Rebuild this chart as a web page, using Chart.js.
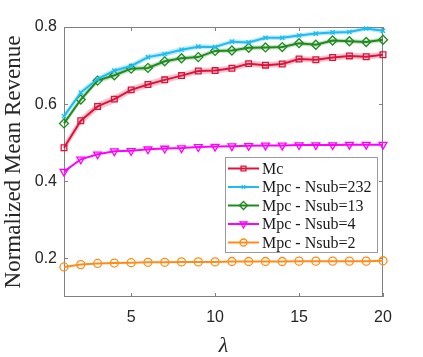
<!DOCTYPE html>
<html>
<head>
<meta charset="utf-8">
<script src="https://cdn.jsdelivr.net/npm/chart.js@4/dist/chart.umd.min.js"></script>
<style>
  html, body { margin: 0; padding: 0; background: #fff; }
  #wrap { width: 423px; height: 357px; }
</style>
</head>
<body>
<div id="wrap"><canvas id="chart" width="423" height="357"></canvas></div>
<script>
// values
const lambdaValues = [1, 2, 3, 4, 5, 6, 7, 8, 9, 10, 11, 12, 13, 14, 15, 16, 17, 18, 19, 20];
const mcValues   = [0.487, 0.557, 0.594, 0.613, 0.637, 0.651, 0.663, 0.674, 0.686, 0.687, 0.693, 0.705, 0.701, 0.704, 0.717, 0.715, 0.721, 0.725, 0.723, 0.728];
const nsub232    = [0.569, 0.630, 0.665, 0.687, 0.699, 0.722, 0.730, 0.741, 0.749, 0.748, 0.762, 0.760, 0.772, 0.772, 0.778, 0.783, 0.786, 0.787, 0.796, 0.790];
const nsub13     = [0.550, 0.612, 0.661, 0.675, 0.692, 0.694, 0.711, 0.719, 0.722, 0.738, 0.739, 0.746, 0.747, 0.748, 0.758, 0.754, 0.765, 0.763, 0.761, 0.767];
const nsub4      = [0.425, 0.457, 0.470, 0.478, 0.479, 0.483, 0.485, 0.486, 0.489, 0.490, 0.491, 0.492, 0.493, 0.493, 0.494, 0.494, 0.494, 0.495, 0.495, 0.495];
const nsub2      = [0.178, 0.184, 0.187, 0.188, 0.189, 0.190, 0.190, 0.191, 0.191, 0.191, 0.192, 0.192, 0.192, 0.192, 0.193, 0.193, 0.193, 0.193, 0.193, 0.194];
// half width of the shaded bands
const mcErr      = [0.012, 0.011, 0.010, 0.010, 0.009, 0.009, 0.009, 0.008, 0.008, 0.008, 0.008, 0.008, 0.008, 0.008, 0.008, 0.008, 0.008, 0.008, 0.008, 0.008];
const nsub232Err = [0.008, 0.008, 0.007, 0.007, 0.007, 0.007, 0.007, 0.007, 0.006, 0.006, 0.006, 0.006, 0.006, 0.006, 0.006, 0.006, 0.006, 0.006, 0.006, 0.006];
const nsub13Err  = [0.008, 0.008, 0.007, 0.007, 0.007, 0.007, 0.007, 0.006, 0.006, 0.006, 0.006, 0.006, 0.006, 0.006, 0.006, 0.006, 0.006, 0.006, 0.006, 0.006];
const xTicks = [5, 10, 15, 20];
const yTicks = [0.2, 0.4, 0.6, 0.8];

const series = [
  { label: "Mc",               values: mcValues, err: mcErr,      color: "#dc143c", band: "rgba(220,20,60,0.25)",  style: "rect",     radius: 4 },
  { label: "Mpc - Nsub=232",   values: nsub232,  err: nsub232Err, color: "#1ebcf0", band: "rgba(30,188,240,0.3)",  style: "crossRot", radius: 3 },
  { label: "Mpc - Nsub=13",    values: nsub13,   err: nsub13Err,  color: "#1f8a1f", band: "rgba(31,138,31,0.25)",  style: "rectRot",  radius: 4.5 },
  { label: "Mpc - Nsub=4",     values: nsub4,    err: null,       color: "#ff00ff", band: null,                    style: "triangle", radius: 4.5, rotation: 180 },
  { label: "Mpc - Nsub=2",     values: nsub2,    err: null,       color: "#ff8c1a", band: null,                    style: "circle",   radius: 4 }
];

function pts(vals, off, sign) {
  return lambdaValues.map((x, i) => ({ x: x, y: off ? vals[i] + sign * off[i] : vals[i] }));
}

const datasets = [];
series.forEach(s => {
  datasets.push({
    label: s.label,
    data: pts(s.values),
    borderColor: s.color,
    borderWidth: 2,
    pointStyle: s.style,
    pointRadius: s.radius,
    pointRotation: s.rotation || 0,
    pointBorderColor: s.color,
    pointBackgroundColor: "rgba(0,0,0,0)",
    pointBorderWidth: 1.3,
    fill: false,
    clip: false,
    order: 0
  });
});
series.forEach(s => {
  if (!s.err) return;
  datasets.push({
    label: "_upper",
    data: pts(s.values, s.err, 1),
    borderWidth: 0, pointRadius: 0,
    backgroundColor: s.band,
    fill: "+1",
    order: 10
  });
  datasets.push({
    label: "_lower",
    data: pts(s.values, s.err, -1),
    borderWidth: 0, pointRadius: 0,
    fill: false,
    order: 10
  });
});

// axes box with inward ticks, like the original figure
const boxPlugin = {
  id: "box",
  beforeDatasetsDraw(chart) {
    const { ctx, chartArea: a, scales } = chart;
    ctx.save();
    ctx.strokeStyle = "#808080";
    ctx.lineWidth = 1;
    ctx.strokeRect(a.left + 0.5, a.top + 0.5, a.right - a.left - 1, a.bottom - a.top - 1);
    ctx.beginPath();
    xTicks.forEach(v => {
      const px = Math.round(scales.x.getPixelForValue(v)) + 0.5;
      ctx.moveTo(px, a.bottom); ctx.lineTo(px, a.bottom - 4);
      ctx.moveTo(px, a.top); ctx.lineTo(px, a.top + 4);
    });
    yTicks.forEach(v => {
      const py = Math.round(scales.y.getPixelForValue(v)) + 0.5;
      ctx.moveTo(a.left, py); ctx.lineTo(a.left + 4, py);
      ctx.moveTo(a.right, py); ctx.lineTo(a.right - 4, py);
    });
    ctx.stroke();
    ctx.restore();
  }
};

// legend drawn inside the plot, bottom right
const legendPlugin = {
  id: "innerLegend",
  afterDraw(chart) {
    const { ctx } = chart;
    const bx = 225, by = 157, bw = 152, bh = 95;
    ctx.save();
    ctx.fillStyle = "#fff";
    ctx.fillRect(bx, by, bw, bh);
    ctx.strokeStyle = "#9a9a9a";
    ctx.lineWidth = 1;
    ctx.strokeRect(bx + 0.5, by + 0.5, bw, bh);
    ctx.font = "16px 'Liberation Serif'";
    ctx.textBaseline = "middle";
    series.forEach((s, i) => {
      const y = by + 11.5 + i * 18.5;
      ctx.strokeStyle = s.color;
      ctx.lineWidth = 2;
      ctx.beginPath();
      ctx.moveTo(bx + 3, y); ctx.lineTo(bx + 34, y);
      ctx.stroke();
      ctx.lineWidth = 1.3;
      ctx.fillStyle = "rgba(0,0,0,0)";
      Chart.helpers.drawPoint(ctx, { pointStyle: s.style, radius: s.radius - 0.5, rotation: s.rotation || 0, borderWidth: 1.3 }, bx + 18.5, y);
      ctx.fillStyle = "#1a1a1a";
      ctx.fillText(s.label, bx + 37, y + 1);
    });
    ctx.restore();
  }
};

new Chart(document.getElementById("chart").getContext("2d"), {
  type: "line",
  data: { datasets: datasets },
  plugins: [boxPlugin, legendPlugin],
  options: {
    responsive: false,
    animation: false,
    layout: { padding: { top: 27, right: 40, left: 0, bottom: 0 } },
    plugins: { legend: { display: false }, tooltip: { enabled: false } },
    elements: { line: { tension: 0 } },
    scales: {
      x: {
        type: "linear",
        min: 1, max: 20,
        afterBuildTicks: sc => { sc.ticks = xTicks.map(v => ({ value: v })); },
        afterFit: sc => { sc.height = 60; },
        grid: { display: false, drawTicks: false },
        border: { display: false },
        ticks: { color: "#262626", font: { family: "'Liberation Sans'", size: 16 }, padding: 11, maxRotation: 0 },
        title: { display: true, text: "λ", color: "#262626", padding: 0,
                 font: { family: "'Liberation Serif'", size: 22, style: "italic", lineHeight: 1 } }
      },
      y: {
        min: 0.1, max: 0.8,
        afterBuildTicks: sc => { sc.ticks = yTicks.map(v => ({ value: v })); },
        afterFit: sc => { sc.width = 64; },
        grid: { display: false, drawTicks: false },
        border: { display: false },
        ticks: { color: "#262626", font: { family: "'Liberation Sans'", size: 16 }, padding: 7 },
        title: { display: true, text: "Normalized Mean Revenue", color: "#262626", padding: 0,
                 font: { family: "'Liberation Serif'", size: 23 } }
      }
    }
  }
});
</script>
</body>
</html>
